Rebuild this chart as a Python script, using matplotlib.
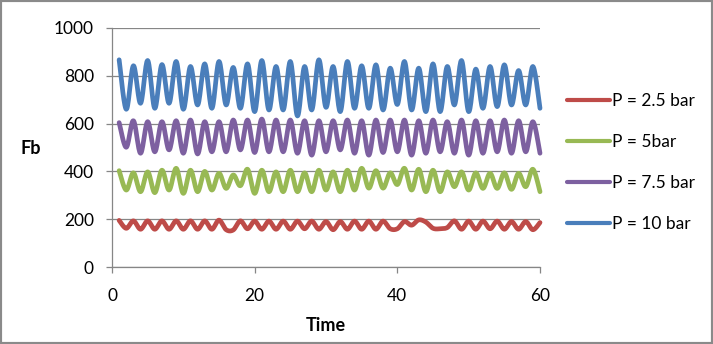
import numpy as np
import matplotlib
matplotlib.use("Agg")
import matplotlib.pyplot as plt
from matplotlib.patches import Rectangle

plt.rcParams['font.family'] = ['Lato', 'DejaVu Sans']

# Time steps
time = list(range(1, 61))

# Fb readings for each pressure
fb_2_5 = [195, 162, 193, 158, 193, 158, 193, 158, 193, 158,
          193, 158, 193, 158, 196, 156, 155, 193, 160, 192,
          158, 192, 158, 192, 158, 192, 160, 192, 158, 190,
          156, 190, 158, 192, 158, 192, 158, 192, 160, 160,
          190, 175, 197, 188, 162, 160, 165, 193, 158, 192,
          158, 192, 160, 192, 158, 190, 158, 190, 156, 186]

fb_5 = [403, 322, 394, 315, 398, 311, 405, 322, 413, 308,
        405, 315, 400, 322, 392, 329, 385, 340, 409, 308,
        405, 315, 398, 315, 405, 315, 394, 315, 405, 322,
        398, 315, 405, 322, 413, 330, 403, 330, 394, 345,
        413, 322, 409, 315, 405, 315, 398, 336, 398, 322,
        394, 329, 392, 329, 394, 325, 392, 336, 409, 315]

fb_7_5 = [604, 501, 612, 476, 608, 482, 608, 490, 612, 476,
          615, 473, 608, 482, 608, 482, 615, 490, 615, 479,
          619, 482, 615, 482, 615, 476, 612, 468, 612, 482,
          612, 490, 615, 476, 612, 468, 615, 479, 615, 482,
          615, 468, 612, 476, 615, 482, 608, 476, 615, 468,
          612, 476, 612, 482, 615, 476, 612, 482, 608, 476]

fb_10 = [867, 660, 842, 685, 864, 664, 847, 685, 860, 660,
         839, 678, 850, 664, 860, 678, 835, 664, 850, 650,
         864, 657, 839, 657, 860, 632, 839, 657, 867, 668,
         839, 650, 860, 664, 842, 664, 846, 657, 832, 680,
         860, 657, 832, 650, 850, 650, 839, 678, 864, 650,
         828, 664, 839, 671, 846, 678, 822, 678, 839, 664]

series_labels = ["P = 2.5 bar", "P = 5bar", "P = 7.5 bar", "P = 10 bar"]
series_colors = ["#BE4B48", "#98B954", "#7D60A0", "#4A7EBB"]

x_ticks = [0, 20, 40, 60]
y_ticks = [0, 200, 400, 600, 800, 1000]


def smooth_curve(xs, ys, samples=16):
    """Bezier smoothing through every point (spreadsheet-style smoothed line)."""
    p = np.column_stack([np.asarray(xs, float), np.asarray(ys, float)])
    n = len(p)
    out = []
    t = np.linspace(0, 1, samples, endpoint=False)[:, None]
    for i in range(n - 1):
        p_prev = p[i - 1] if i > 0 else p[i]
        p_next = p[i + 2] if i + 2 < n else p[i + 1]
        c1 = p[i] + (p[i + 1] - p_prev) / 6.0
        c2 = p[i + 1] - (p_next - p[i]) / 6.0
        seg = ((1 - t) ** 3) * p[i] + 3 * ((1 - t) ** 2) * t * c1 \
            + 3 * (1 - t) * t ** 2 * c2 + t ** 3 * p[i + 1]
        out.append(seg)
    out.append(p[-1][None, :])
    curve = np.vstack(out)
    return curve[:, 0], curve[:, 1]


fig = plt.figure(figsize=(7.13, 3.44), dpi=100)
ax = fig.add_axes([112 / 713, 1 - 267 / 344, 428 / 713, 239 / 344])

grid_gray = "#868686"
for values, label, color in zip([fb_2_5, fb_5, fb_7_5, fb_10], series_labels, series_colors):
    sx, sy = smooth_curve(time, values)
    ax.plot(sx, sy, color=color, lw=3.4, label=label, clip_on=False,
            solid_capstyle="round", solid_joinstyle="round", zorder=3)

ax.set_xlim(0, 60)
ax.set_ylim(0, 1000)
ax.set_xticks(x_ticks)
ax.set_yticks(y_ticks)
ax.yaxis.grid(True, color=grid_gray, lw=0.9)
ax.set_axisbelow(True)

for side in ["top", "right"]:
    ax.spines[side].set_visible(False)
for side in ["left", "bottom"]:
    ax.spines[side].set_color(grid_gray)
    ax.spines[side].set_linewidth(0.9)

ax.tick_params(axis="both", direction="out", length=4, width=0.9,
               color=grid_gray, labelsize=12.5, labelcolor="#000000")
ax.tick_params(axis="x", pad=11)
ax.tick_params(axis="y", pad=9)

ax.set_ylabel("Fb", fontsize=13, fontweight="bold", rotation=0,
              va="center", ha="center")
ax.yaxis.set_label_coords(-0.189, 0.494)
ax.set_xlabel("Time", fontsize=13, fontweight="bold", va="center")
ax.xaxis.set_label_coords(0.5, -0.243)

leg = ax.legend(loc="center left", bbox_to_anchor=(567 / 713, 1 - 162.4 / 344),
                bbox_transform=fig.transFigure, frameon=False, fontsize=12.5,
                handlelength=2.5, handletextpad=0.12, labelspacing=1.45,
                borderpad=0, borderaxespad=0)
for line in leg.get_lines():
    line.set_linewidth(3.0)

fig.patches.append(Rectangle((0, 0), 1, 1, transform=fig.transFigure,
                             fill=False, edgecolor="#8a8a8a", lw=3.0))

fig.savefig("out.png", dpi=100)
